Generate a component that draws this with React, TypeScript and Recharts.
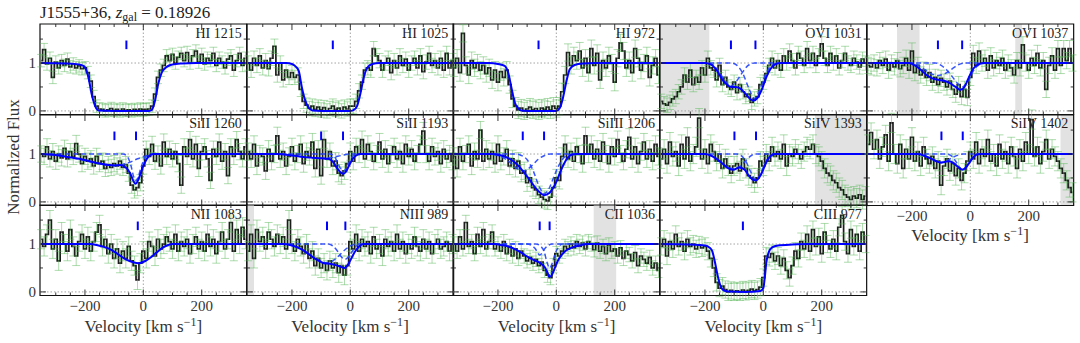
import React from "react";
import { ComposedChart, Line, XAxis, YAxis, ReferenceLine, ReferenceArea, ErrorBar } from "recharts";

type Pt = [number, number];

// bin centres (km/s)
const VEL = [
  -350, -340, -330, -320, -310, -300, -290, -280, -270, -260,
  -250, -240, -230, -220, -210, -200, -190, -180, -170, -160,
  -150, -140, -130, -120, -110, -100, -90, -80, -70, -60,
  -50, -40, -30, -20, -10, 0, 10, 20, 30, 40,
  50, 60, 70, 80, 90, 100, 110, 120, 130, 140,
  150, 160, 170, 180, 190, 200, 210, 220, 230, 240,
  250, 260, 270, 280, 290, 300, 310, 320, 330, 340, 350,
];

const X_TICKS = [-300, -250, -200, -150, -100, -50, 0, 50, 100, 150, 200, 250, 300];
const Y_TICKS = [0, 0.5, 1, 1.5];

// ---- normalized flux per line ----
const hi1215Flux = [
  1.05, 1.28, 0.98, 1.1, 0.7, 1.02, 0.9, 1.05, 0.95, 1.08,
  0.92, 0.98, 0.9, 0.94, 0.88, 0.9, 0.8, 0.62, 0.3, 0.1,
  0.04, 0.03, 0.0, 0.02, 0.05, 0.01, 0.03, 0.0, 0.04, 0.01,
  0.02, 0.0, 0.03, 0.01, 0.04, 0.02, 0.03, 0.04, 0.1, 0.35,
  0.7, 0.85, 0.95, 1.15, 1.05, 1.18, 1.0, 1.12, 1.2, 1.05,
  1.22, 1.0, 1.15, 1.25, 1.02, 1.18, 0.98, 1.1, 1.05, 1.2,
  0.95, 1.1, 1.02, 0.9, 1.08, 1.15, 0.85, 1.05, 1.2, 0.95, 1.1,
];
const hi1025Flux = [
  1.0, 0.85, 1.1, 0.95, 1.15, 0.9, 1.05, 0.88, 1.1, 1.35,
  0.75, 1.0, 0.65, 0.85, 0.7, 0.8, 0.7, 0.75, 0.45, 0.2,
  0.12, 0.05, 0.1, 0.03, 0.08, 0.02, 0.07, 0.0, 0.05, 0.1,
  0.03, 0.06, 0.0, 0.08, 0.04, 0.1, 0.1, 0.2, 0.42, 0.6,
  0.85, 0.9, 0.85, 1.3, 1.15, 1.05, 0.85, 1.0, 1.1, 0.8,
  1.05, 0.9, 1.15, 0.95, 1.08, 0.85, 1.0, 1.1, 0.9, 1.15,
  0.82, 1.02, 1.2, 0.95, 1.05, 0.9, 1.1, 0.85, 1.2, 0.9, 1.05,
];
const hi972Flux = [
  0.9, 1.1, 0.8, 1.62, 0.95, 0.75, 1.05, 0.9, 1.0, 0.85,
  0.95, 0.78, 0.9, 0.65, 0.85, 0.6, 0.82, 0.7, 0.85, 0.55,
  0.25, 0.1, 0.02, 0.06, 0.0, 0.04, 0.08, 0.02, 0.05, 0.0,
  0.06, 0.03, 0.08, 0.02, 0.1, 0.05, 0.1, 0.4, 0.75, 1.22,
  0.95, 1.15, 1.05, 1.25, 0.9, 1.1, 0.8, 1.3, 0.95, 1.2,
  0.65, 1.05, 0.9, 1.15, 1.0, 0.6, 1.1, 1.42, 1.25, 0.9,
  1.05, 0.8, 1.3, 1.1, 0.85, 1.0, 1.15, 0.7, 0.95, 1.1, 0.75,
];
const ovi1031Flux = [
  0.2, 0.15, 0.12, 0.18, 0.25, 0.3, 0.4, 0.5, 0.75, 0.6,
  0.85, 0.55, 0.7, 0.6, 0.9, 0.75, 1.1, 0.9, 0.85, 0.65,
  0.95, 0.55, 0.7, 0.5, 0.45, 0.6, 0.38, 0.55, 0.4, 0.3,
  0.35, 0.18, 0.25, 0.3, 0.55, 0.6, 0.78, 0.95, 1.1, 0.9,
  1.05, 0.85, 1.15, 1.0, 1.25, 1.05, 0.9, 1.2, 1.1, 0.95,
  1.3, 1.05, 1.2, 0.95, 1.15, 1.4, 1.1, 0.95, 1.2, 1.0,
  1.15, 0.9, 1.05, 1.2, 1.0, 0.95, 1.1, 1.02, 0.92, 1.08, 1.0,
];
const ovi1037Flux = [
  0.95, 0.92, 1.0, 0.9, 1.05, 0.95, 1.08, 0.85, 1.0, 0.92,
  1.05, 0.88, 0.95, 1.1, 0.85, 1.25, 0.8, 0.95, 0.75, 0.85,
  0.7, 0.8, 0.6, 0.7, 0.55, 0.68, 0.6, 0.5, 0.62, 0.45,
  0.35, 0.55, 0.3, 0.45, 0.28, 0.7, 1.2, 0.95, 1.25, 1.0,
  1.1, 0.85, 1.15, 0.9, 1.05, 0.95, 1.1, 0.85, 1.0, 0.9,
  0.75, 1.05, 0.9, 1.38, 1.0, 0.85, 1.1, 0.95, 1.2, 0.9,
  1.05, 0.45, 0.95, 1.15, 0.85, 1.3, 0.95, 1.3, 1.05, 1.3, 1.0,
];
const si1260Flux = [
  1.0, 0.95, 1.15, 0.9, 1.05, 0.85, 1.0, 0.92, 1.12, 0.9,
  1.05, 0.95, 1.22, 1.0, 0.8, 0.95, 0.85, 0.9, 0.75, 0.95,
  0.8, 0.85, 0.7, 0.78, 0.72, 0.8, 0.75, 0.85, 0.72, 0.78,
  0.6, 0.35, 0.25, 0.3, 0.4, 0.75, 1.1, 0.95, 1.2, 0.85,
  1.0, 0.75, 1.25, 0.95, 1.1, 0.9, 1.05, 0.8, 0.35, 1.15,
  0.95, 1.3, 0.9, 1.2, 0.7, 1.05, 1.15, 0.9, 0.45, 1.1,
  0.95, 1.25, 0.85, 1.05, 0.55, 1.15, 0.95, 1.3, 1.05, 0.9, 1.15,
];
const si1193Flux = [
  1.05, 0.9, 1.2, 0.75, 1.0, 0.95, 0.65, 1.1, 0.85, 1.0,
  1.38, 0.9, 1.05, 0.75, 0.95, 1.15, 0.85, 1.0, 1.2, 0.8,
  1.05, 0.95, 1.25, 0.7, 1.1, 0.55, 1.3, 0.9, 1.05, 0.75,
  0.85, 0.6, 0.55, 0.65, 0.8, 1.05, 0.85, 1.15, 1.0, 1.3,
  0.9, 1.2, 1.05, 0.85, 1.0, 1.25, 0.9, 1.1, 0.8, 1.0,
  1.15, 0.9, 1.05, 0.8, 1.2, 0.95, 1.1, 0.85, 1.0, 1.2,
  1.48, 1.0, 0.85, 1.15, 0.95, 1.05, 0.8, 1.1, 0.9, 1.0, 0.85,
];
const si1206Flux = [
  0.95, 0.7, 1.15, 0.85, 1.0, 1.2, 0.75, 1.05, 0.9, 1.5,
  0.85, 1.1, 0.9, 1.05, 0.8, 1.2, 0.85, 0.95, 1.1, 0.75,
  0.9, 0.7, 0.85, 0.6, 0.65, 0.4, 0.5, 0.3, 0.25, 0.15,
  0.1, 0.05, 0.02, 0.1, 0.3, 0.5, 0.45, 0.95, 1.2, 0.9,
  1.05, 0.85, 1.15, 1.0, 0.8, 1.38, 1.0, 1.2, 0.9, 1.1,
  0.85, 1.25, 1.0, 0.8, 1.15, 0.95, 1.3, 1.0, 0.85, 1.1,
  1.35, 0.9, 1.15, 0.8, 1.05, 1.25, 0.9, 1.1, 0.85, 1.2, 0.95,
];
const si1393Flux = [
  0.9, 1.1, 0.8, 1.25, 0.95, 1.05, 0.75, 1.2, 0.9, 1.35,
  0.85, 1.0, 1.15, 1.75, 0.9, 1.1, 0.8, 1.2, 1.05, 0.85,
  1.0, 0.7, 0.9, 0.75, 0.6, 0.75, 0.8, 0.65, 0.9, 0.7,
  0.55, 0.5, 0.4, 0.5, 0.85, 0.75, 1.0, 0.85, 1.15, 0.95,
  1.05, 0.9, 1.2, 0.75, 1.0, 0.95, 1.1, 1.0, 0.9, 1.05,
  1.15, 1.1, 1.2, 1.0, 0.95, 0.85, 0.7, 0.6, 0.55, 0.45,
  0.4, 0.3, 0.25, 0.15, 0.1, 0.05, 0.12, 0.08, 0.15, 0.05, 0.12,
];
const si1402Flux = [
  1.2, 1.45, 1.1, 1.3, 0.9, 1.15, 1.4, 0.85, 1.65, 1.0,
  0.8, 1.2, 0.7, 1.1, 0.9, 1.35, 0.85, 1.05, 0.75, 1.15,
  0.9, 0.8, 0.95, 0.7, 0.85, 0.35, 0.75, 0.9, 0.65, 0.8,
  0.55, 0.7, 0.45, 0.6, 0.85, 1.05, 0.9, 1.25, 0.8, 1.1,
  0.95, 1.3, 0.85, 1.0, 0.75, 1.2, 0.9, 1.05, 0.8, 1.15,
  0.95, 0.7, 1.1, 0.85, 1.25, 1.0, 1.72, 0.95, 1.15, 0.8,
  1.05, 1.3, 0.9, 1.1, 0.95, 0.85, 0.7, 0.6, 0.45, 0.3, 0.2,
];
const n1083Flux = [
  1.1, 0.95, 1.2, 1.5, 0.9, 1.1, 0.65, 1.25, 1.0, 0.85,
  1.3, 0.95, 0.75, 1.05, 1.2, 0.9, 1.15, 0.85, 1.05, 1.25,
  1.4, 0.95, 1.1, 0.8, 1.0, 0.7, 0.9, 0.6, 0.85, 0.7,
  0.95, 0.65, 0.55, 0.25, 0.6, 0.85, 0.7, 1.05, 0.95, 0.75,
  1.1, 0.9, 1.0, 1.15, 1.05, 0.9, 1.2, 0.85, 1.05, 0.95,
  1.1, 0.8, 1.0, 1.15, 0.9, 1.05, 0.85, 1.2, 0.95, 1.1,
  0.8, 1.05, 1.25, 0.9, 1.1, 1.45, 0.85, 1.3, 1.0, 1.35, 1.1,
];
const n989Flux = [
  0.85, 1.2, 0.7, 1.3, 1.05, 1.15, 0.9, 1.25, 1.1, 0.95,
  1.2, 1.0, 1.15, 0.9, 1.5, 1.0, 0.85, 1.1, 0.95, 0.8,
  1.0, 0.7, 0.85, 0.55, 0.7, 0.5, 0.6, 0.45, 0.65, 0.5,
  0.6, 0.4, 0.55, 0.35, 0.55, 1.05, 0.9, 1.2, 0.85, 1.1,
  0.95, 1.05, 0.8, 1.15, 0.9, 1.0, 0.75, 1.1, 0.95, 1.05,
  0.85, 1.2, 0.9, 1.05, 0.8, 1.0, 0.9, 1.15, 0.95, 0.85,
  1.1, 0.9, 1.05, 0.8, 1.0, 1.1, 0.9, 0.95, 1.05, 0.85, 1.0,
];
const c1036Flux = [
  1.0, 0.85, 1.15, 0.9, 1.45, 0.95, 1.05, 0.8, 1.2, 0.95,
  1.3, 0.9, 1.05, 1.25, 0.9, 1.0, 0.85, 1.05, 0.8, 0.95,
  0.75, 0.9, 0.7, 0.85, 0.75, 0.65, 0.72, 0.6, 0.68, 0.55,
  0.62, 0.45, 0.35, 0.3, 0.55, 0.8, 0.75, 0.85, 0.95, 0.9,
  1.0, 0.92, 1.05, 0.95, 1.02, 0.9, 1.05, 1.0, 0.88, 1.02,
  0.85, 0.95, 0.8, 0.98, 0.85, 0.9, 0.75, 0.92, 0.7, 0.85,
  0.78, 0.65, 0.82, 0.55, 0.75, 0.68, 0.6, 0.72, 0.5, 0.6, 0.45,
];
const c977Flux = [
  0.95, 1.1, 0.75, 1.05, 0.9, 1.2, 0.95, 1.05, 0.85, 1.1,
  0.95, 1.0, 0.9, 0.98, 0.92, 0.95, 0.85, 0.7, 0.5, 0.2,
  0.08, 0.12, 0.05, 0.0, 0.03, 0.0, 0.02, 0.0, 0.04, 0.01,
  0.03, 0.06, 0.02, 0.05, 0.1, 0.3, 0.75, 0.72, 0.8, 0.65,
  0.75, 0.55, 0.7, 0.45, 0.3, 0.55, 0.85, 0.7, 1.05, 0.9,
  1.2, 0.85, 1.3, 0.95, 1.15, 0.8, 1.25, 1.0, 0.9, 1.1,
  0.85, 1.35, 1.6, 1.05, 0.8, 1.3, 0.95, 1.2, 0.85, 1.25, 1.0,
];

// ---- fitted profiles [velocity, flux]: total and single components ----
const hi1215Model: Pt[] = [[-350, 1], [-260, 0.99], [-220, 0.97], [-205, 0.94], [-200, 0.91], [-188, 0.7], [-177, 0.35], [-165, 0.1], [-154, 0.01], [-100, 0], [20, 0], [29, 0.02], [40, 0.21], [51, 0.56], [63, 0.8], [80, 0.92], [100, 0.97], [130, 0.99], [180, 1], [350, 1]];
const hi1025Model: Pt[] = [[-350, 1], [-220, 1], [-200, 0.98], [-188, 0.93], [-177, 0.84], [-166, 0.49], [-154, 0.21], [-143, 0.07], [-130, 0.01], [-100, 0], [0, 0], [12, 0.02], [23, 0.1], [34, 0.35], [46, 0.7], [58, 0.9], [75, 0.98], [100, 1], [350, 1]];
const hi972Model: Pt[] = [[-350, 1], [-230, 1], [-200, 0.98], [-177, 0.94], [-165, 0.8], [-154, 0.49], [-142, 0.17], [-131, 0.06], [-120, 0.01], [-100, 0], [0, 0], [12, 0.06], [23, 0.28], [35, 0.63], [46, 0.87], [63, 0.96], [90, 0.99], [130, 1], [350, 1]];
const ovi1031Model: Pt[] = [[-350, 1], [-200, 1], [-180, 0.97], [-160, 0.85], [-140, 0.65], [-125, 0.55], [-110, 0.5], [-95, 0.5], [-80, 0.47], [-60, 0.35], [-45, 0.25], [-34, 0.21], [-20, 0.27], [-5, 0.45], [10, 0.7], [25, 0.88], [40, 0.97], [60, 1], [350, 1]];
const ovi1031A: Pt[] = [[-350, 1], [-190, 1], [-170, 0.95], [-150, 0.8], [-130, 0.62], [-111, 0.52], [-92, 0.62], [-72, 0.8], [-52, 0.95], [-30, 1], [350, 1]];
const ovi1031B: Pt[] = [[-350, 1], [-110, 1], [-90, 0.95], [-70, 0.78], [-50, 0.48], [-30, 0.26], [-15, 0.4], [0, 0.65], [15, 0.85], [35, 0.97], [55, 1], [350, 1]];
const ovi1037Model: Pt[] = [[-350, 1], [-210, 1], [-190, 0.95], [-170, 0.86], [-150, 0.75], [-130, 0.68], [-110, 0.65], [-90, 0.63], [-70, 0.58], [-50, 0.5], [-34, 0.44], [-20, 0.5], [-5, 0.7], [10, 0.88], [30, 0.98], [50, 1], [350, 1]];
const ovi1037A: Pt[] = [[-350, 1], [-200, 1], [-180, 0.96], [-160, 0.88], [-135, 0.78], [-111, 0.74], [-87, 0.78], [-62, 0.88], [-42, 0.96], [-20, 1], [350, 1]];
const ovi1037B: Pt[] = [[-350, 1], [-120, 1], [-100, 0.95], [-80, 0.85], [-60, 0.7], [-40, 0.55], [-28, 0.5], [-15, 0.56], [0, 0.72], [15, 0.88], [35, 0.98], [55, 1], [350, 1]];
const si1260Model: Pt[] = [[-350, 1], [-300, 0.98], [-260, 0.94], [-220, 0.9], [-190, 0.86], [-150, 0.8], [-120, 0.77], [-100, 0.76], [-80, 0.77], [-60, 0.72], [-45, 0.6], [-35, 0.45], [-27, 0.38], [-18, 0.45], [-8, 0.62], [5, 0.82], [18, 0.95], [35, 1], [350, 1]];
const si1260A: Pt[] = [[-350, 1], [-300, 0.98], [-250, 0.93], [-200, 0.86], [-150, 0.8], [-100, 0.76], [-50, 0.82], [-20, 0.9], [10, 0.96], [40, 1], [350, 1]];
const si1260B: Pt[] = [[-350, 1], [-70, 1], [-55, 0.95], [-42, 0.75], [-33, 0.52], [-26, 0.44], [-18, 0.52], [-8, 0.72], [5, 0.92], [15, 0.99], [30, 1], [350, 1]];
const si1193Model: Pt[] = [[-350, 1], [-250, 1], [-200, 0.97], [-150, 0.93], [-100, 0.91], [-75, 0.9], [-60, 0.84], [-45, 0.7], [-30, 0.6], [-24, 0.59], [-15, 0.63], [-5, 0.75], [8, 0.9], [20, 0.97], [35, 1], [350, 1]];
const si1193A: Pt[] = [[-350, 1], [-250, 1], [-200, 0.97], [-150, 0.93], [-100, 0.91], [-60, 0.93], [-30, 0.97], [0, 1], [350, 1]];
const si1193B: Pt[] = [[-350, 1], [-70, 1], [-55, 0.95], [-42, 0.8], [-32, 0.68], [-25, 0.64], [-17, 0.68], [-6, 0.8], [6, 0.94], [20, 1], [350, 1]];
const si1206Model: Pt[] = [[-350, 1], [-220, 1], [-195, 0.98], [-170, 0.93], [-145, 0.84], [-125, 0.72], [-105, 0.57], [-90, 0.45], [-72, 0.3], [-57, 0.2], [-42, 0.14], [-25, 0.18], [-10, 0.3], [0, 0.42], [12, 0.6], [25, 0.78], [40, 0.93], [55, 0.99], [70, 1], [350, 1]];
const si1206A: Pt[] = [[-350, 1], [-230, 1], [-200, 0.97], [-175, 0.9], [-150, 0.78], [-130, 0.68], [-115, 0.65], [-100, 0.68], [-80, 0.78], [-60, 0.9], [-40, 0.97], [-20, 1], [350, 1]];
const si1206B: Pt[] = [[-350, 1], [-140, 1], [-120, 0.97], [-100, 0.88], [-80, 0.66], [-60, 0.34], [-42, 0.17], [-25, 0.28], [-10, 0.5], [5, 0.72], [20, 0.88], [40, 0.98], [60, 1], [350, 1]];
const si1393Model: Pt[] = [[-350, 1], [-200, 1], [-180, 0.97], [-160, 0.9], [-140, 0.8], [-125, 0.72], [-103, 0.67], [-83, 0.72], [-65, 0.68], [-50, 0.55], [-35, 0.46], [-25, 0.45], [-12, 0.53], [0, 0.68], [12, 0.85], [25, 0.96], [40, 1], [350, 1]];
const si1393A: Pt[] = [[-350, 1], [-200, 1], [-180, 0.97], [-160, 0.9], [-140, 0.8], [-120, 0.72], [-100, 0.69], [-80, 0.74], [-62, 0.85], [-45, 0.95], [-30, 1], [350, 1]];
const si1393B: Pt[] = [[-350, 1], [-90, 1], [-75, 0.96], [-60, 0.85], [-45, 0.65], [-30, 0.48], [-25, 0.46], [-15, 0.52], [-2, 0.7], [12, 0.88], [25, 0.97], [40, 1], [350, 1]];
const si1402Model: Pt[] = [[-350, 1], [-180, 1], [-160, 0.97], [-140, 0.92], [-120, 0.86], [-100, 0.82], [-85, 0.84], [-72, 0.85], [-55, 0.8], [-40, 0.72], [-28, 0.67], [-15, 0.72], [-3, 0.82], [10, 0.93], [22, 0.99], [35, 1], [350, 1]];
const si1402A: Pt[] = [[-350, 1], [-180, 1], [-160, 0.97], [-140, 0.92], [-120, 0.86], [-100, 0.83], [-80, 0.86], [-60, 0.93], [-40, 0.98], [-25, 1], [350, 1]];
const si1402B: Pt[] = [[-350, 1], [-80, 1], [-65, 0.96], [-50, 0.85], [-38, 0.73], [-26, 0.68], [-14, 0.73], [-2, 0.85], [10, 0.95], [25, 1], [350, 1]];
const n1083Model: Pt[] = [[-350, 1], [-180, 1], [-160, 0.98], [-135, 0.94], [-110, 0.88], [-85, 0.78], [-60, 0.68], [-35, 0.62], [-15, 0.6], [5, 0.64], [25, 0.72], [45, 0.82], [65, 0.92], [85, 0.98], [100, 1], [350, 1]];
const n989Model: Pt[] = [[-350, 1], [-230, 1], [-200, 0.97], [-170, 0.9], [-145, 0.8], [-125, 0.71], [-105, 0.64], [-90, 0.6], [-70, 0.59], [-50, 0.56], [-35, 0.53], [-20, 0.5], [-8, 0.57], [5, 0.72], [18, 0.86], [30, 0.95], [45, 1], [350, 1]];
const n989A: Pt[] = [[-350, 1], [-230, 1], [-200, 0.97], [-170, 0.9], [-145, 0.8], [-120, 0.7], [-95, 0.63], [-80, 0.61], [-60, 0.65], [-40, 0.75], [-20, 0.87], [0, 0.96], [20, 1], [350, 1]];
const n989B: Pt[] = [[-350, 1], [-75, 1], [-60, 0.96], [-45, 0.86], [-32, 0.74], [-18, 0.68], [-5, 0.74], [8, 0.86], [20, 0.96], [35, 1], [350, 1]];
const c1036Model: Pt[] = [[-350, 1], [-210, 1], [-190, 0.98], [-165, 0.95], [-140, 0.89], [-115, 0.8], [-95, 0.72], [-75, 0.66], [-55, 0.6], [-40, 0.52], [-30, 0.4], [-24, 0.31], [-15, 0.36], [-5, 0.5], [5, 0.65], [18, 0.77], [30, 0.85], [55, 0.93], [80, 0.97], [110, 1], [350, 1]];
const c1036A: Pt[] = [[-350, 1], [-100, 1], [-85, 0.97], [-72, 0.9], [-62, 0.8], [-57, 0.77], [-50, 0.8], [-40, 0.9], [-28, 0.97], [-15, 1], [350, 1]];
const c1036B: Pt[] = [[-350, 1], [-70, 1], [-55, 0.96], [-42, 0.85], [-32, 0.62], [-23, 0.5], [-14, 0.6], [-4, 0.8], [8, 0.94], [20, 1], [350, 1]];
const c977Model: Pt[] = [[-350, 1], [-250, 0.99], [-200, 0.97], [-185, 0.93], [-175, 0.85], [-165, 0.6], [-155, 0.3], [-145, 0.1], [-135, 0.03], [-120, 0.01], [-60, 0], [-10, 0.02], [0, 0.08], [5, 0.3], [10, 0.6], [18, 0.82], [30, 0.93], [50, 0.97], [100, 0.99], [150, 1], [350, 1]];

// component centroids (km/s) and masked (shaded) ranges
const hiComp = [-58];
const ovi1031Comp = [-111, -27];
const ovi1037Comp = [-111, -28];
const si1260Comp = [-99, -25];
const si1193Comp = [-100, -25];
const si1206Comp = [-115, -42];
const si1393Comp = [-99, -25];
const si1402Comp = [-99, -26];
const n1083Comp = [-19];
const n989Comp = [-80, -17];
const c1036Comp = [-57, -23];
const c977Comp = [-70];

const ovi1031Mask: Pt[] = [[-354, -185]];
const ovi1037Mask: Pt[] = [[-251, -174], [154, 177]];
const si1393Mask: Pt[] = [[177, 354]];
const si1402Mask: Pt[] = [[309, 354]];
const n989Mask: Pt[] = [[-354, -330]];
const c1036Mask: Pt[] = [[128, 205]];

type PanelDef = {
  label: string;
  flux: number[];
  model: Pt[];
  parts: Pt[][];
  comps: number[];
  mask: Pt[];
  err: number;
};

const panels: PanelDef[] = [
  { label: "HI 1215", flux: hi1215Flux, model: hi1215Model, parts: [], comps: hiComp, mask: [], err: 0.13 },
  { label: "HI 1025", flux: hi1025Flux, model: hi1025Model, parts: [], comps: [-60], mask: [], err: 0.15 },
  { label: "HI 972", flux: hi972Flux, model: hi972Model, parts: [], comps: [-61], mask: [], err: 0.18 },
  { label: "OVI 1031", flux: ovi1031Flux, model: ovi1031Model, parts: [ovi1031A, ovi1031B], comps: ovi1031Comp, mask: ovi1031Mask, err: 0.15 },
  { label: "OVI 1037", flux: ovi1037Flux, model: ovi1037Model, parts: [ovi1037A, ovi1037B], comps: ovi1037Comp, mask: ovi1037Mask, err: 0.17 },
  { label: "SiII 1260", flux: si1260Flux, model: si1260Model, parts: [si1260A, si1260B], comps: si1260Comp, mask: [], err: 0.17 },
  { label: "SiII 1193", flux: si1193Flux, model: si1193Model, parts: [si1193A, si1193B], comps: si1193Comp, mask: [], err: 0.18 },
  { label: "SiIII 1206", flux: si1206Flux, model: si1206Model, parts: [si1206A, si1206B], comps: si1206Comp, mask: [], err: 0.18 },
  { label: "SiIV 1393", flux: si1393Flux, model: si1393Model, parts: [si1393A, si1393B], comps: si1393Comp, mask: si1393Mask, err: 0.2 },
  { label: "SiIV 1402", flux: si1402Flux, model: si1402Model, parts: [si1402A, si1402B], comps: si1402Comp, mask: si1402Mask, err: 0.2 },
  { label: "NII 1083", flux: n1083Flux, model: n1083Model, parts: [], comps: n1083Comp, mask: [], err: 0.2 },
  { label: "NIII 989", flux: n989Flux, model: n989Model, parts: [n989A, n989B], comps: n989Comp, mask: n989Mask, err: 0.2 },
  { label: "CII 1036", flux: c1036Flux, model: c1036Model, parts: [c1036A, c1036B], comps: c1036Comp, mask: c1036Mask, err: 0.15 },
  { label: "CIII 977", flux: c977Flux, model: c977Model, parts: [], comps: c977Comp, mask: [], err: 0.18 },
];

// layout
const PW = 206.67;
const PH = 90.5;
const X0 = 40;
const Y0 = 24;
const ML = 45;
const MR = 8;
const MT = 8;
const MB = 45;
const AX = 20;
const XDOM: [number, number] = [-354, 354];
const YDOM: [number, number] = [-0.075, 1.815];
const SERIF = "'Liberation Serif', 'Times New Roman', Times, 'DejaVu Serif', serif";
const TXT = { fontFamily: SERIF };
const BLUE = "#0000ff";

const fmt = (v: number) => (v < 0 ? `\u2212${-v}` : `${v}`);

function Panel({ p, col, row }: { p: PanelDef; col: number; row: number }) {
  const showX = row === 2 || (row === 1 && col === 4);
  const showY = col === 0;
  const rows = VEL.map((v, i) => ({ v, f: p.flux[i], e: p.err }));
  const toRows = (a: Pt[]) => a.map(([v, f]) => ({ v, f }));
  const yb = MT + PH;

  const xTick = (props: any) => {
    const x = props.x;
    const val = props.payload.value;
    const major = val % 200 === 0;
    const len = major ? 6 : 3;
    return (
      <g>
        <line x1={x} x2={x} y1={yb} y2={yb - len} stroke="#222" strokeWidth={0.9} />
        <line x1={x} x2={x} y1={MT} y2={MT + len} stroke="#222" strokeWidth={0.9} />
        {showX && major && (
          <text x={x} y={yb + 15.5} textAnchor="middle" fontSize={15} style={TXT} fill="#333">
            {fmt(val)}
          </text>
        )}
      </g>
    );
  };

  const yTick = (props: any) => {
    const y = props.y;
    const val = props.payload.value;
    const major = val === 0 || val === 1;
    const len = major ? 6 : 3;
    return (
      <g>
        <line x1={ML} x2={ML + len} y1={y} y2={y} stroke="#222" strokeWidth={0.9} />
        <line x1={ML + PW} x2={ML + PW - len} y1={y} y2={y} stroke="#222" strokeWidth={0.9} />
        {showY && major && (
          <text x={ML - 4} y={y + 5} textAnchor="end" fontSize={15} style={TXT} fill="#333">
            {val}
          </text>
        )}
      </g>
    );
  };

  return (
    <div style={{ position: "absolute", left: X0 + col * PW - ML, top: Y0 + row * PH - MT }}>
      <ComposedChart
        width={ML + PW + MR}
        height={MT + PH + MB}
        margin={{ top: MT, right: MR, bottom: MB - AX, left: ML - AX }}
      >
        <XAxis
          dataKey="v"
          type="number"
          domain={XDOM}
          allowDataOverflow
          ticks={X_TICKS}
          interval={0}
          tick={xTick}
          tickLine={false}
          axisLine={false}
          height={AX}
        />
        <YAxis
          type="number"
          domain={YDOM}
          allowDataOverflow
          ticks={Y_TICKS}
          interval={0}
          tick={yTick}
          tickLine={false}
          axisLine={false}
          width={AX}
        />
        {p.mask.map(([a, b], i) => (
          <ReferenceArea key={`m${i}`} x1={a} x2={b} y1={YDOM[0]} y2={YDOM[1]} fill="#e2e2e2" fillOpacity={1} stroke="none" />
        ))}
        <ReferenceLine y={0} stroke="#999" strokeDasharray="1.5 2" strokeWidth={0.9} />
        <ReferenceLine y={1} stroke="#999" strokeDasharray="1.5 2" strokeWidth={0.9} />
        <ReferenceLine x={0} stroke="#999" strokeDasharray="1.5 2" strokeWidth={0.9} />
        <Line data={rows} dataKey="f" type="step" stroke="#1c1c1c" strokeWidth={1.7} dot={false} isAnimationActive={false} />
        <Line data={rows} dataKey="f" stroke="none" dot={false} isAnimationActive={false}>
          <ErrorBar dataKey="e" direction="y" width={4} stroke="#5cb85c" strokeOpacity={0.5} strokeWidth={1} />
        </Line>
        {p.parts.map((c, i) => (
          <Line
            key={`c${i}`}
            data={toRows(c)}
            dataKey="f"
            type="monotone"
            stroke="#2244ff"
            strokeOpacity={0.9}
            strokeDasharray="5 3"
            strokeWidth={1.5}
            dot={false}
            isAnimationActive={false}
          />
        ))}
        <Line data={toRows(p.model)} dataKey="f" type="monotone" stroke={BLUE} strokeWidth={2} dot={false} isAnimationActive={false} />
        {p.comps.map((v, i) => (
          <ReferenceLine
            key={`t${i}`}
            segment={[{ x: v, y: 1.29 }, { x: v, y: 1.47 }]}
            stroke={BLUE}
            strokeWidth={2}
          />
        ))}
        <ReferenceArea x1={XDOM[0]} x2={XDOM[1]} y1={YDOM[0]} y2={YDOM[1]} fill="none" stroke="#111" strokeWidth={1.2} />
      </ComposedChart>
    </div>
  );
}

export default function App() {
  const labelCols = [0, 1, 2, 3];
  return (
    <div style={{ position: "absolute", left: 0, top: 0, width: 1080, height: 343, background: "#fff", fontFamily: SERIF }}>
      {panels.map((p, i) => (
        <Panel key={p.label} p={p} col={i % 5} row={Math.floor(i / 5)} />
      ))}
      <svg width={1080} height={343} style={{ position: "absolute", left: 0, top: 0, pointerEvents: "none", fontFamily: SERIF }}>
        <text x={X0} y={18} fontSize={17} style={TXT} fill="#222">
          J1555+36, <tspan fontStyle="italic">z</tspan>
          <tspan fontSize={12} dy={3}>gal</tspan>
          <tspan dy={-3}> = 0.18926</tspan>
        </text>
        {panels.map((p, i) => {
          const col = i % 5;
          const row = Math.floor(i / 5);
          return (
            <text
              key={p.label}
              x={X0 + (col + 1) * PW - 5}
              y={Y0 + row * PH + 13.5}
              textAnchor="end"
              fontSize={14}
              style={TXT}
              fill="#222"
            >
              {p.label}
            </text>
          );
        })}
        {labelCols.map((c) => (
          <text key={c} x={X0 + c * PW + PW / 2} y={Y0 + 3 * PH + 36} textAnchor="middle" fontSize={17} style={TXT} fill="#333">
            Velocity [km s<tspan fontSize={12} dy={-6}>{"\u22121"}</tspan>
            <tspan dy={6}>]</tspan>
          </text>
        ))}
        <text x={X0 + 4 * PW + PW / 2} y={Y0 + 2 * PH + 36} textAnchor="middle" fontSize={17} style={TXT} fill="#333">
          Velocity [km s<tspan fontSize={12} dy={-6}>{"\u22121"}</tspan>
          <tspan dy={6}>]</tspan>
        </text>
        <text transform="translate(19,157) rotate(-90)" textAnchor="middle" fontSize={17} style={TXT} fill="#333">
          Normalized Flux
        </text>
      </svg>
    </div>
  );
}
